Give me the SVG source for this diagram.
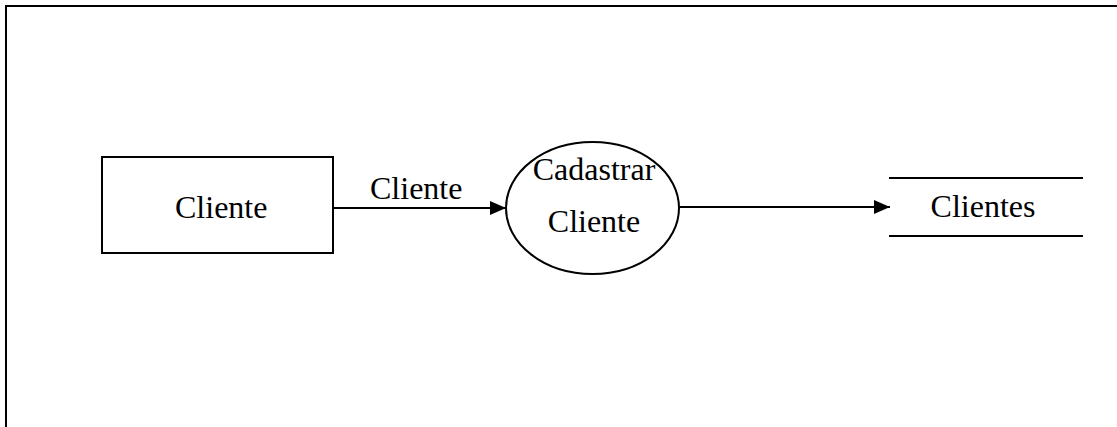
<svg xmlns="http://www.w3.org/2000/svg" width="1117" height="427" viewBox="0 0 1117 427">
<style>
text{font-family:"Liberation Serif","Times New Roman",serif;font-size:32px;fill:#000}
.s{fill:none;stroke:#000;stroke-width:2}
</style>
<defs>
<marker id="ah" markerUnits="userSpaceOnUse" markerWidth="16" markerHeight="14" refX="16" refY="7" orient="auto">
<path d="M0,0 L16,7 L0,14 Z" fill="#000"/>
</marker>
</defs>
<rect width="1117" height="427" fill="#fff"/>
<path class="s" d="M6,427 L6,6 L1117,6" stroke-width="2.4"/>
<g id="cliente-entity">
<rect class="s" x="102" y="157" width="231" height="96"/>
<text x="175" y="218">Cliente</text>
</g>
<g id="cadastrar-process">
<ellipse class="s" cx="592.5" cy="208" rx="86.5" ry="66"/>
<text x="594" y="180" text-anchor="middle">Cadastrar</text>
<text x="594" y="232" text-anchor="middle">Cliente</text>
</g>
<g id="clientes-store">
<line class="s" x1="889" y1="178" x2="1083" y2="178"/>
<line class="s" x1="889" y1="236" x2="1083" y2="236"/>
<text x="983" y="217" text-anchor="middle">Clientes</text>
</g>
<g id="connectors">
<line class="s" x1="333" y1="208" x2="506" y2="208" marker-end="url(#ah)"/>
<text x="370" y="199">Cliente</text>
<line class="s" x1="679" y1="207" x2="890" y2="207" marker-end="url(#ah)"/>
</g>
</svg>
